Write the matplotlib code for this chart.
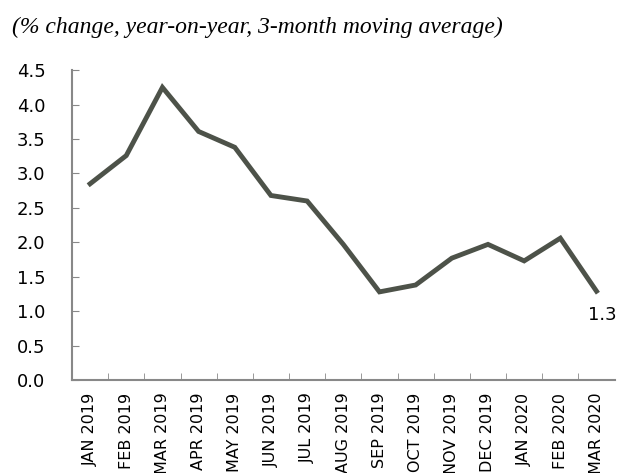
import numpy as np
import matplotlib.pyplot as plt

# 3-month moving average, % change y-o-y
months = ['JAN 2019', 'FEB 2019', 'MAR 2019', 'APR 2019', 'MAY 2019', 'JUN 2019',
          'JUL 2019', 'AUG 2019', 'SEP 2019', 'OCT 2019', 'NOV 2019', 'DEC 2019',
          'JAN 2020', 'FEB 2020', 'MAR 2020']
values = [2.85, 3.26, 4.25, 3.61, 3.38, 2.68, 2.60, 1.97, 1.28, 1.38, 1.77, 1.97,
          1.73, 2.06, 1.29]
y_ticks = [0.0, 0.5, 1.0, 1.5, 2.0, 2.5, 3.0, 3.5, 4.0, 4.5]

fig = plt.figure(figsize=(6.18, 4.73), dpi=100)
ax = fig.add_axes([0.1165, 0.1966, 0.878, 0.655])

x = np.arange(len(months))
ax.plot(x, values, color='#4d5249', linewidth=3.5, solid_joinstyle='miter')

ax.set_xlim(-0.5, len(months) - 0.5)
ax.set_ylim(0, 4.5)
ax.set_yticks(y_ticks)
ax.set_yticklabels([f'{v:.1f}' for v in y_ticks], fontsize=13)
ax.set_xticks(x)
ax.set_xticklabels(months, rotation=90, fontsize=11.5, va='top')
ax.set_xticks(np.arange(0.5, len(months) - 0.5, 1), minor=True)
ax.tick_params(axis='x', which='major', length=0, pad=9)
ax.tick_params(axis='x', which='minor', direction='in', length=5, color='#888888')
ax.tick_params(axis='y', direction='in', length=5, color='#888888', pad=19)

for s in ['top', 'right']:
    ax.spines[s].set_visible(False)
for s in ['left', 'bottom']:
    ax.spines[s].set_color('#888888')
    ax.spines[s].set_linewidth(1.5)

ax.annotate(f'{values[-1]:.1f}', (x[-1], values[-1]), xytext=(4, -11),
            textcoords='offset points', ha='center', va='top', fontsize=13)

fig.text(0.02, 0.943, '(% change, year-on-year, 3-month moving average)',
         fontsize=17, style='italic', family='Liberation Serif', va='center')

plt.savefig('out.png', dpi=100)
